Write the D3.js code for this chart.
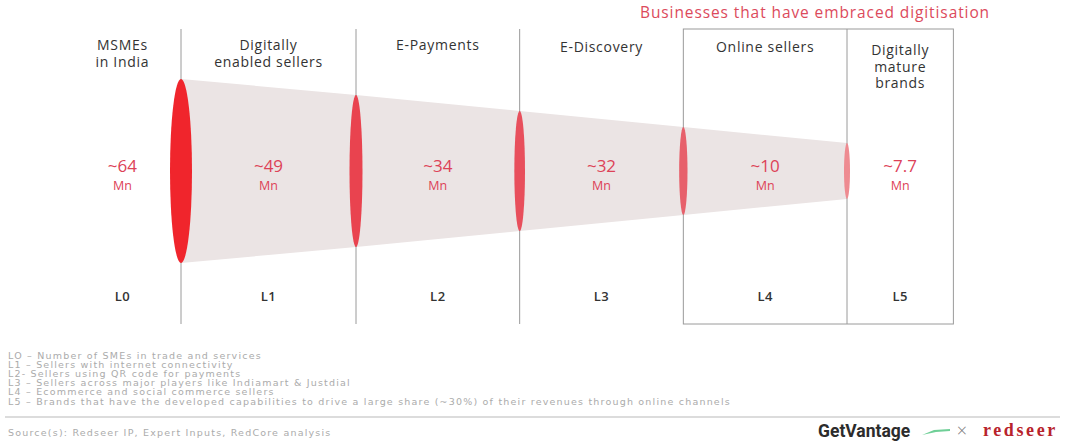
<!DOCTYPE html>
<html lang="en">
<head>
  <meta charset="UTF-8">
  <title>Digitisation funnel</title>
  <script src="https://d3js.org/d3.v7.min.js"></script>
  <style>
    body {
      margin: 0;
      padding: 0;
      background: #fff;
    }
    svg {
      display: block;
      font-family: 'Open Sans', sans-serif;
    }
    .head { font-size: 14px; fill: #333; letter-spacing: 0.7px; }
    .lvl { font-size: 13px; fill: #333; font-weight: 600; letter-spacing: 0.5px; }
    .val { font-size: 17px; fill: #dd4257; }
    .unit { font-size: 12.5px; fill: #dd4257; }
    .note { font-family: 'DejaVu Sans', sans-serif; font-size: 9.5px; fill: #ababab; letter-spacing: 1.2px; }
  </style>
</head>
<body>
  <svg id="chart" width="1067" height="441"></svg>

  <script>
    var levels = ['L0', 'L1', 'L2', 'L3', 'L4', 'L5'];
    var headers = [
      ['MSMEs', 'in India'],
      ['Digitally', 'enabled sellers'],
      ['E-Payments'],
      ['E-Discovery'],
      ['Online sellers'],
      ['Digitally', 'mature', 'brands']
    ];
    var values = [64, 49, 34, 32, 10, 7.7];
    var unit = 'Mn';
    var boxTitle = 'Businesses that have embraced digitisation';
    var notes = [
      'LO \u2013  Number of SMEs in trade and services',
      'L1 \u2013 Sellers with internet connectivity',
      'L2- Sellers using QR code for payments',
      'L3 \u2013 Sellers across major players like Indiamart & Justdial',
      'L4 \u2013 Ecommerce and social commerce sellers',
      'L5 \u2013 Brands that have the developed capabilities to drive a large share (~30%) of their revenues through online channels'
    ];
    var source = 'Source(s): Redseer IP, Expert Inputs, RedCore analysis';

    var svg = d3.select('#chart');

    // divider i sits between level i and level i+1
    var x = d3.scaleLinear().domain([0, 1, 4]).range([181, 356, 847]);
    var edges = [-0.67, 0, 1, 2, 3, 4, 4.65];
    var colCenter = function(i) { return (x(edges[i]) + x(edges[i + 1])) / 2; };

    var yTop = 29, yBottom = 324, midY = 171;
    var ry = d3.scaleLinear().domain([0, 4]).range([92, 28]);
    var rx = d3.scaleLinear().domain([0, 1, 4]).range([11, 6.5, 3]);
    var ellColor = d3.scaleOrdinal()
      .domain([0, 1, 2, 3, 4])
      .range(['#f0252c', '#e9434f', '#e84f5c', '#e7606b', '#ee8b91']);

    // funnel body
    var dividers = d3.range(5);
    var funnel = dividers.map(function(i) { return [x(i), midY - ry(i)]; })
      .concat(dividers.slice().reverse().map(function(i) { return [x(i), midY + ry(i)]; }));
    svg.append('path')
      .attr('d', d3.line()(funnel) + 'Z')
      .attr('fill', '#ebe4e4');

    // divider lines and box
    svg.selectAll('line.div')
      .data([0, 1, 2, 4]).enter().append('line')
      .attr('class', 'div')
      .attr('x1', function(d) { return x(d); })
      .attr('x2', function(d) { return x(d); })
      .attr('y1', yTop).attr('y2', yBottom)
      .attr('stroke', '#9a9a9a').attr('stroke-width', 1);

    svg.append('rect')
      .attr('x', x(3)).attr('y', yTop)
      .attr('width', x(4.65) - x(3)).attr('height', yBottom - yTop)
      .attr('fill', 'none').attr('stroke', '#9a9a9a').attr('stroke-width', 1);

    svg.append('text')
      .attr('x', 815).attr('y', 18)
      .attr('text-anchor', 'middle')
      .style('font-size', '15.5px').style('fill', '#dc4a5c').style('letter-spacing', '0.9px')
      .text(boxTitle);

    // ellipses
    svg.selectAll('ellipse')
      .data(dividers).enter().append('ellipse')
      .attr('cx', function(d) { return x(d); })
      .attr('cy', midY)
      .attr('rx', function(d) { return rx(d); })
      .attr('ry', function(d) { return ry(d); })
      .attr('fill', function(d) { return ellColor(d); });

    // headers
    var hd = svg.selectAll('text.head')
      .data(headers).enter().append('text')
      .attr('class', 'head')
      .attr('text-anchor', 'middle')
      .attr('transform', function(d, i) {
        var y0 = i === 5 ? 55 : (i === 3 || i === 4 ? 52 : 50);
        return 'translate(' + [colCenter(i), y0] + ')';
      });
    hd.selectAll('tspan')
      .data(function(d) { return d; }).enter().append('tspan')
      .attr('x', 0)
      .attr('dy', function(d, i) { return i === 0 ? 0 : 16.5; })
      .text(function(d) { return d; });

    // values
    svg.selectAll('text.val')
      .data(values).enter().append('text')
      .attr('class', 'val')
      .attr('text-anchor', 'middle')
      .attr('x', function(d, i) { return colCenter(i); })
      .attr('y', 172)
      .text(function(d) { return '~' + d; });

    svg.selectAll('text.unit')
      .data(values).enter().append('text')
      .attr('class', 'unit')
      .attr('text-anchor', 'middle')
      .attr('x', function(d, i) { return colCenter(i); })
      .attr('y', 190)
      .text(unit);

    // level labels
    svg.selectAll('text.lvl')
      .data(levels).enter().append('text')
      .attr('class', 'lvl')
      .attr('text-anchor', 'middle')
      .attr('x', function(d, i) { return colCenter(i); })
      .attr('y', 301)
      .text(function(d) { return d; });

    // footnotes
    svg.selectAll('text.note.fn')
      .data(notes).enter().append('text')
      .attr('class', 'note fn')
      .attr('x', 8)
      .attr('y', function(d, i) { return 358.5 + i * 9.2; })
      .text(function(d) { return d; });

    svg.append('line')
      .attr('x1', 5).attr('x2', 1060)
      .attr('y1', 417).attr('y2', 417)
      .attr('stroke', '#d0d0d0').attr('stroke-width', 1.5);

    svg.append('text')
      .attr('class', 'note')
      .attr('x', 8).attr('y', 436)
      .text(source);

    // logos
    svg.append('text')
      .attr('x', 818).attr('y', 437)
      .style('font-family', 'Roboto, sans-serif')
      .style('font-size', '17.5px').style('font-weight', 700).style('fill', '#2c2c2c')
      .text('GetVantage');
    svg.append('path')
      .attr('d', 'M922,435 L934,430 L950,429 L950,431 L936,432 Z')
      .attr('fill', '#6fcf97');
    svg.append('text')
      .attr('x', 962).attr('y', 437)
      .attr('text-anchor', 'middle')
      .style('font-size', '18px').style('fill', '#777').style('font-weight', 300)
      .text('\u00d7');
    svg.append('text')
      .attr('x', 983).attr('y', 436)
      .style('font-family', "'Liberation Serif', serif")
      .style('font-size', '18px').style('font-weight', 700).style('fill', '#b8232c')
      .style('letter-spacing', '2.6px')
      .text('redseer');
  </script>
</body>
</html>
